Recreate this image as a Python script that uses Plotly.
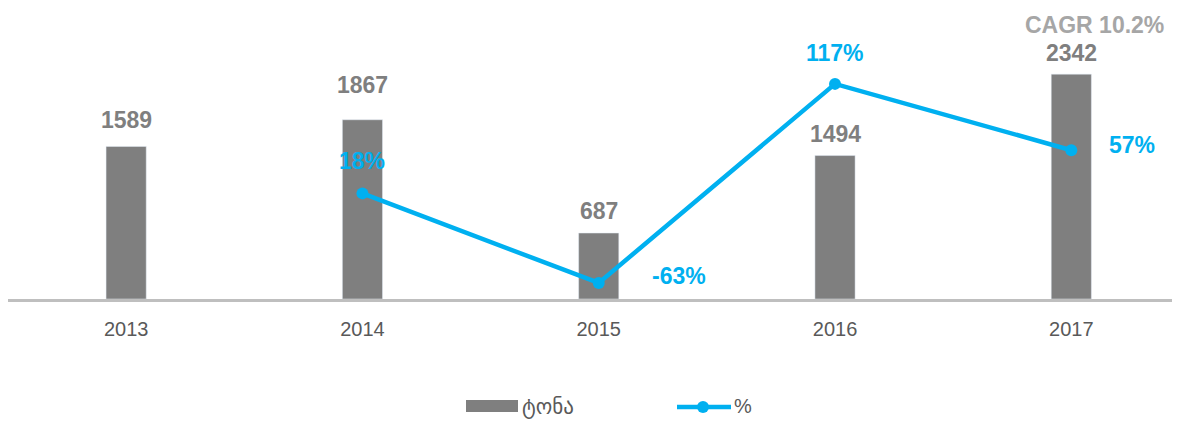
import plotly.graph_objects as go

years = ["2013", "2014", "2015", "2016", "2017"]
tons = [1589, 1867, 687, 1494, 2342]
pct_years = ["2014", "2015", "2016", "2017"]
pct = [18, -63, 117, 57]
pct_labels = ["18%", "-63%", "117%", "57%"]

BAR = "#7F7F7F"
LINE = "#00B0F0"
FONT = "Liberation Sans, Arial, DejaVu Sans, sans-serif"

fig = go.Figure()
fig.add_trace(go.Bar(x=years, y=tons, marker_color=BAR, width=0.17, showlegend=False,
                     hoverinfo="skip"))
fig.add_trace(go.Scatter(x=pct_years, y=pct, yaxis="y2", mode="lines+markers",
                         line=dict(color=LINE, width=4.5),
                         marker=dict(color=LINE, size=12), showlegend=False))

# bar value labels
bar_label_shift = [26, 35, 22, 22, 21]
for i, v in enumerate(tons):
    fig.add_annotation(x=i, y=v, text=f"<b>{v}</b>", showarrow=False,
                       yshift=bar_label_shift[i], yanchor="middle",
                       font=dict(family=FONT, size=23, color=BAR))

# percent labels
offsets = {"2014": (0, 32), "2015": (80, 7), "2016": (0, 31), "2017": (61, 5)}
for x, v, t in zip(pct_years, pct, pct_labels):
    dx, dy = offsets[x]
    fig.add_annotation(x=years.index(x), y=v, yref="y2", text=f"<b>{t}</b>", showarrow=False,
                       xshift=dx, yshift=dy, yanchor="middle",
                       font=dict(family=FONT, size=23, color=LINE))

fig.add_annotation(x=len(years) - 1, y=1, yref="paper", text="<b>CAGR 10.2%</b>",
                   showarrow=False, xshift=23, yshift=-15, yanchor="middle",
                   font=dict(family=FONT, size=23, color="#A6A6A6"))

# custom legend (paper coords relative to plot area: left=8, top=10, 1172x289 in page px)
def px(x):
    return (x - 8) / 1172

def py(y):
    return (299 - y) / 289

fig.add_shape(type="rect", xref="paper", yref="paper", x0=px(466), x1=px(518),
              y0=py(412), y1=py(400), fillcolor=BAR, line_width=0)
fig.add_annotation(xref="paper", yref="paper", x=px(520), y=py(407),
                   text="ტონა", showarrow=False, xanchor="left", yanchor="middle",
                   font=dict(family="DejaVu Sans, sans-serif", size=21, color="#595959"))
fig.add_shape(type="line", xref="paper", yref="paper", x0=px(677), x1=px(731),
              y0=py(407), y1=py(407), line=dict(color=LINE, width=4.5))
fig.add_shape(type="circle", xref="paper", yref="paper", x0=px(697), x1=px(709),
              y0=py(413), y1=py(401), fillcolor=LINE, line_width=0)
fig.add_annotation(xref="paper", yref="paper", x=px(732), y=py(406),
                   text="%", showarrow=False, xanchor="left", yanchor="middle",
                   font=dict(family=FONT, size=20, color="#595959"))

fig.update_layout(
    width=1172, height=414,
    margin=dict(l=0, r=0, t=2, b=123),
    plot_bgcolor="white", paper_bgcolor="white",
    xaxis=dict(type="category", range=[-0.5, 4.46], showline=True, linecolor="#BFBFBF",
               linewidth=3, showgrid=False, zeroline=False, ticks="",
               ticklabelstandoff=10,
               tickfont=dict(family=FONT, size=20, color="#595959")),
    yaxis=dict(range=[0, 3010], visible=False, showgrid=False, zeroline=False),
    yaxis2=dict(range=[-77.5, 183.8], overlaying="y", visible=False, showgrid=False,
                zeroline=False),
    showlegend=False,
)

fig.write_html("out.html")
